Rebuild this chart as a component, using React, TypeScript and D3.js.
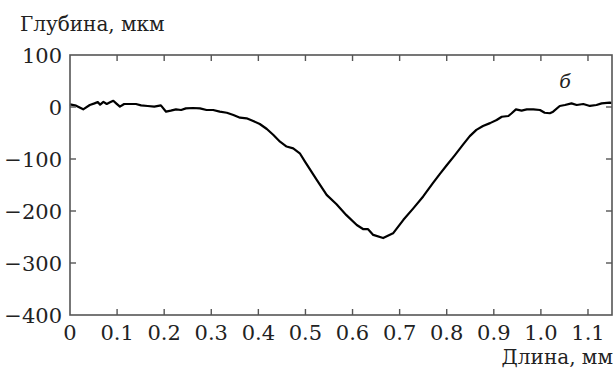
import React from 'react'
import * as d3 from 'd3'

// profile of the crater (length, mm -> depth, um)
const lengthMm = [
  0.0, 0.013, 0.028, 0.042, 0.052, 0.059, 0.064, 0.071, 0.078, 0.085, 0.092, 0.098,
  0.106, 0.115, 0.126, 0.14, 0.151, 0.165, 0.179, 0.193, 0.204, 0.214, 0.225, 0.236,
  0.246, 0.261, 0.276, 0.29, 0.304, 0.318, 0.333, 0.347, 0.361, 0.375, 0.389, 0.403,
  0.418, 0.432, 0.446, 0.46, 0.474, 0.488, 0.499, 0.524, 0.545, 0.566, 0.587, 0.609,
  0.623, 0.633, 0.644, 0.665, 0.686, 0.708, 0.729, 0.75, 0.771, 0.786, 0.8, 0.817,
  0.835, 0.849, 0.863, 0.877, 0.892, 0.906, 0.917, 0.931, 0.938, 0.947, 0.959, 0.97,
  0.984, 0.998, 1.008, 1.019, 1.026, 1.04, 1.051, 1.065, 1.076, 1.09, 1.104, 1.118,
  1.129, 1.146, 1.15
]
const depthUm = [
  5, 2.5, -4.5, 3.8, 7, 9.6, 4.5, 10, 5.8, 9, 12, 7,
  0.6, 5.8, 5.8, 5.8, 3.2, 1.9, 0.6, 3.2, -9, -7, -4.5, -5.8,
  -2.6, -1.9, -2.6, -5.8, -5.8, -9, -11, -15.4, -20.5, -21.8, -27, -32.7,
  -42.3, -53.8, -66.7, -76, -79.5, -89, -105, -140, -169, -187, -208, -227,
  -235, -235, -246, -252, -243, -217, -195, -172, -146, -128, -112, -93,
  -72, -56, -44, -36.5, -31, -25, -18.7, -17.3, -12, -4.5, -7, -4.5,
  -4.5, -5.8, -11, -12, -9, 2, 3.8, 7, 3.8, 5.8, 2, 3.8,
  7, 8.3, 8
]

const xTicks = [0, 0.1, 0.2, 0.3, 0.4, 0.5, 0.6, 0.7, 0.8, 0.9, 1.0, 1.1]
const xTickLabels = ['0', '0.1', '0.2', '0.3', '0.4', '0.5', '0.6', '0.7', '0.8', '0.9', '1.0', '1.1']
const yTicks = [100, 0, -100, -200, -300, -400]
const yTickLabels = ['100', '0', '−100', '−200', '−300', '−400']

export default function App() {
  const width = 615
  const height = 372
  const left = 70
  const right = 612
  const top = 55
  const bottom = 315
  const tickLen = 6
  const serif = {fontFamily: "'DejaVu Serif', 'Noto Serif', FreeSerif, Times, serif"}
  const axisColor = '#555'

  const x = d3.scaleLinear().domain([0, 1.151]).range([left, right])
  const y = d3.scaleLinear().domain([-400, 100]).range([bottom, top])

  const points = lengthMm.map((d, i) => [d, depthUm[i]] as [number, number])
  const line = d3
    .line<[number, number]>()
    .x(d => x(d[0]))
    .y(d => y(d[1]))

  return (
    <div style={{position: 'absolute', left: 0, top: 0}}>
      <svg width={width} height={height} style={{display: 'block', background: '#fff'}}>
        <path d={line(points) || ''} fill="none" stroke="#000" strokeWidth={2.2} strokeLinejoin="round" />

        <rect x={left} y={top} width={right - left} height={bottom - top} fill="none" stroke={axisColor} strokeWidth={1.6} />

        {xTicks.slice(1).map(t => (
          <g key={'xt' + t}>
            <line x1={x(t)} x2={x(t)} y1={bottom} y2={bottom - tickLen} stroke={axisColor} strokeWidth={1.4} />
            <line x1={x(t)} x2={x(t)} y1={top} y2={top + tickLen} stroke={axisColor} strokeWidth={1.4} />
          </g>
        ))}
        {yTicks.slice(1, -1).map(t => (
          <g key={'yt' + t}>
            <line x1={left} x2={left + tickLen} y1={y(t)} y2={y(t)} stroke={axisColor} strokeWidth={1.4} />
            <line x1={right} x2={right - tickLen} y1={y(t)} y2={y(t)} stroke={axisColor} strokeWidth={1.4} />
          </g>
        ))}

        {xTicks.map((t, i) => (
          <text key={'xl' + t} x={x(t)} y={bottom + 25} textAnchor="middle" style={serif} fontSize={21} fill="#222">
            {xTickLabels[i]}
          </text>
        ))}
        {yTicks.map((t, i) => (
          <text key={'yl' + t} x={left - 8} y={y(t) + 7.5} textAnchor="end" style={serif} fontSize={21} fill="#222">
            {yTickLabels[i]}
          </text>
        ))}

        <text x={20} y={31} style={serif} fontSize={20} fill="#222">Глубина, мкм</text>
        <text x={613} y={364} textAnchor="end" style={serif} fontSize={20} fill="#222">Длина, мм</text>
        <text x={565} y={88} textAnchor="middle" style={{...serif, fontStyle: 'italic'}} fontSize={19} fill="#222">б</text>
      </svg>
    </div>
  )
}
